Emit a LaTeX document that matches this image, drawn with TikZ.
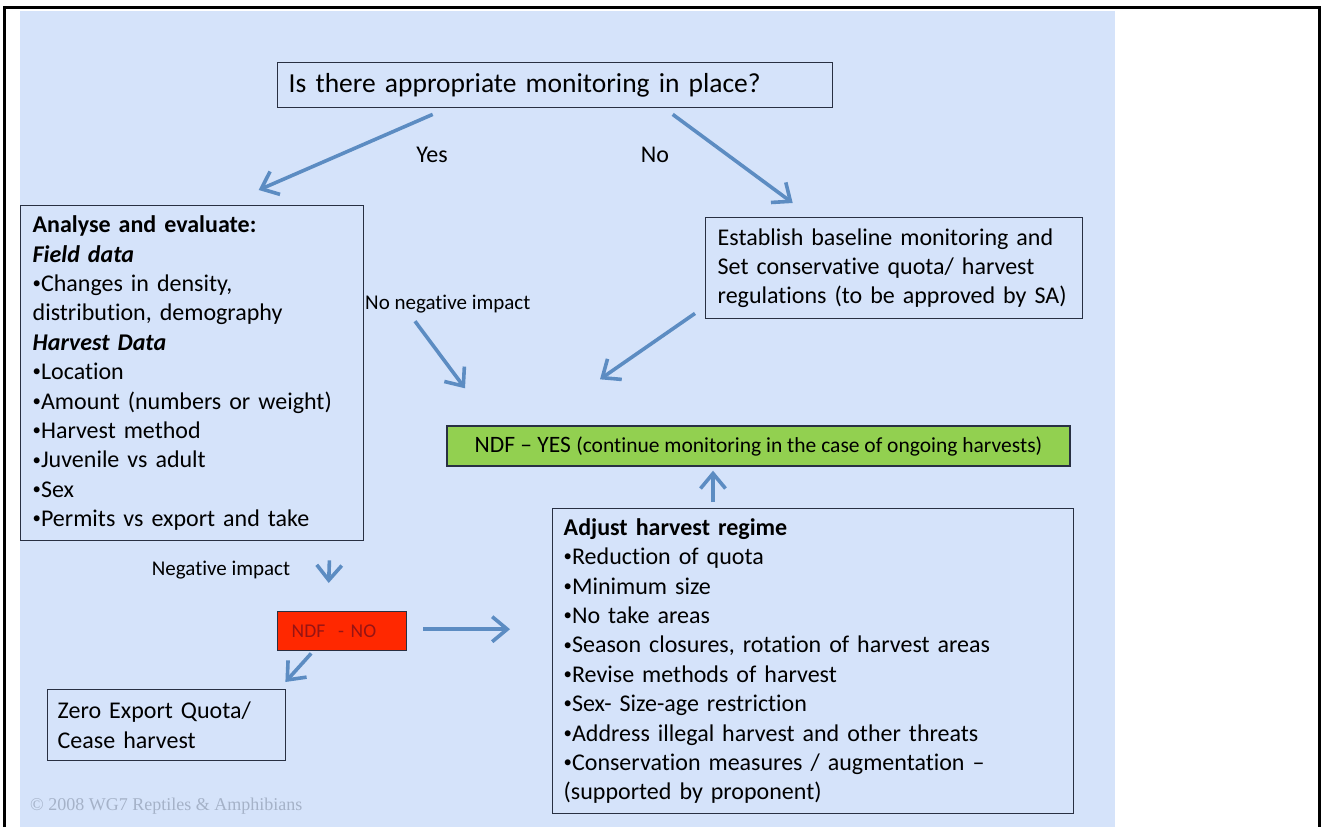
\documentclass[tikz,border=0pt]{standalone}
\usepackage{fontspec}
\setmainfont{Carlito}[Ligatures=NoCommon]
\newfontfamily\copyfont{Liberation Serif}
\usetikzlibrary{arrows.meta}
\definecolor{bgblue}{RGB}{213,227,250}
\definecolor{arrblue}{RGB}{92,140,194}
\definecolor{boxline}{RGB}{40,48,66}
\definecolor{ndfgreen}{RGB}{146,208,80}
\definecolor{ndfred}{RGB}{255,40,0}
\definecolor{ndfredtext}{RGB}{150,20,20}
\definecolor{copygray}{RGB}{165,178,200}
\newcommand{\bul}{\raisebox{0.12em}{\scalebox{0.7}{•}}}
\tikzset{
  box/.style={draw=boxline, line width=1.4pt, rectangle, anchor=north west, align=left, inner ysep=0pt},
  body/.style={font=\fontsize{24}{29.4}\selectfont},
  arr/.style={draw=arrblue, line width=3.6pt, -{Straight Barb[length=15pt,width=25pt]}},
  lbl/.style={inner sep=0pt, font=\fontsize{21}{24}\selectfont},
}
\begin{document}
\begin{tikzpicture}[x=1pt,y=-1pt]
\useasboundingbox (0,0) rectangle (1322,827);
\fill[bgblue] (20,11) rectangle (1115,827);
\draw[line width=2.6pt] (4.5,827) -- (4.5,7.5) -- (1319.5,7.5) -- (1319.5,827);

% top question
\node[box, font=\fontsize{27.5}{34}\selectfont, inner xsep=11pt, text width=533pt, minimum height=45pt] (q) at (277,62)
  {Is there appropriate monitoring in place?};

% analyse box
\node[box, body, inner xsep=12pt, text width=319pt, minimum height=335pt] (a) at (20,205)
  {\textbf{Analyse and evaluate:}\\
   \textbf{\textit{Field data}}\\
   \bul Changes in density,\\
   distribution, demography\\
   \textbf{\textit{Harvest Data}}\\
   \bul Location\\
   \bul Amount (numbers or weight)\\
   \bul Harvest method\\
   \bul Juvenile vs adult\\
   \bul Sex\\
   \bul Permits vs export and take};

% establish box
\node[box, body, inner xsep=12pt, text width=353pt, minimum height=101pt] (e) at (705,217)
  {Establish baseline monitoring and\\
   Set conservative quota/ harvest\\
   regulations (to be approved by SA)};

% green NDF yes
\node[draw=boxline, line width=1.4pt, fill=ndfgreen, minimum width=623pt, minimum height=40pt, inner sep=0pt] (g) at (758.5,446)
  {\fontsize{23.5}{28}\selectfont NDF – YES \fontsize{21.5}{28}\selectfont(continue monitoring in the case of ongoing harvests)};

% adjust box
\node[box, body, inner xsep=11pt, text width=499pt, minimum height=305pt] (d) at (552,508)
  {\textbf{Adjust harvest regime}\\
   \bul Reduction of quota\\
   \bul Minimum size\\
   \bul No take areas\\
   \bul Season closures, rotation of harvest areas\\
   \bul Revise methods of harvest\\
   \bul Sex- Size-age restriction\\
   \bul Address illegal harvest and other threats\\
   \bul Conservation measures / augmentation –\\
   (supported by proponent)};

% NDF no
\node[box, fill=ndfred, inner xsep=14pt, text width=101pt, minimum height=39pt, text=ndfredtext, font=\fontsize{19.5}{22}\selectfont] (n) at (277,611)
  {NDF\ \ - NO};

% zero export
\node[box, body, inner xsep=10pt, text width=218pt, minimum height=71pt] (z) at (47,689)
  {Zero Export Quota/\\
   Cease harvest};

% labels
\node[font=\fontsize{24}{28}\selectfont, inner sep=0pt] (yes) at (432,155) {Yes};
\node[font=\fontsize{24}{28}\selectfont, inner sep=0pt] (no) at (655,155) {No};
\node[lbl, anchor=west] (nn) at (365,304) {No negative impact};
\node[lbl] (ni) at (221,570) {Negative impact};
\node[inner sep=0pt, anchor=west, text=copygray, font=\copyfont\fontsize{18}{20}\selectfont] (cp) at (30,806) {© 2008 WG7 Reptiles \& Amphibians};

% arrows
\draw[arr] ([shift={(-122.5,6)}]q.south) -- ([shift={(66.5,-15)}]a.north);
\draw[arr] ([shift={(117.5,6)}]q.south) -- ([shift={(-101.5,-14)}]e.north);
\draw[arr] ([shift={(50,8)}]nn.south west) -- ([shift={(-293.5,-37)}]g.north);
\draw[arr] ([shift={(-10,-6)}]e.south west) -- ([shift={(-158.5,-46)}]g.north);
\draw[arr] ([shift={(161,-6)}]d.north west) -- ([shift={(-45.5,4)}]g.south);
\draw[arr] ([shift={(-35,19)}]a.south east) -- ([shift={(-13.5,-28)}]n.north);
\draw[arr] ([shift={(16,-2)}]n.east) -- ([shift={(-42,-32)}]d.west);
\draw[arr] ([shift={(-31,2)}]n.south) -- ([shift={(-1,-7)}]z.north east);
\end{tikzpicture}
\end{document}
